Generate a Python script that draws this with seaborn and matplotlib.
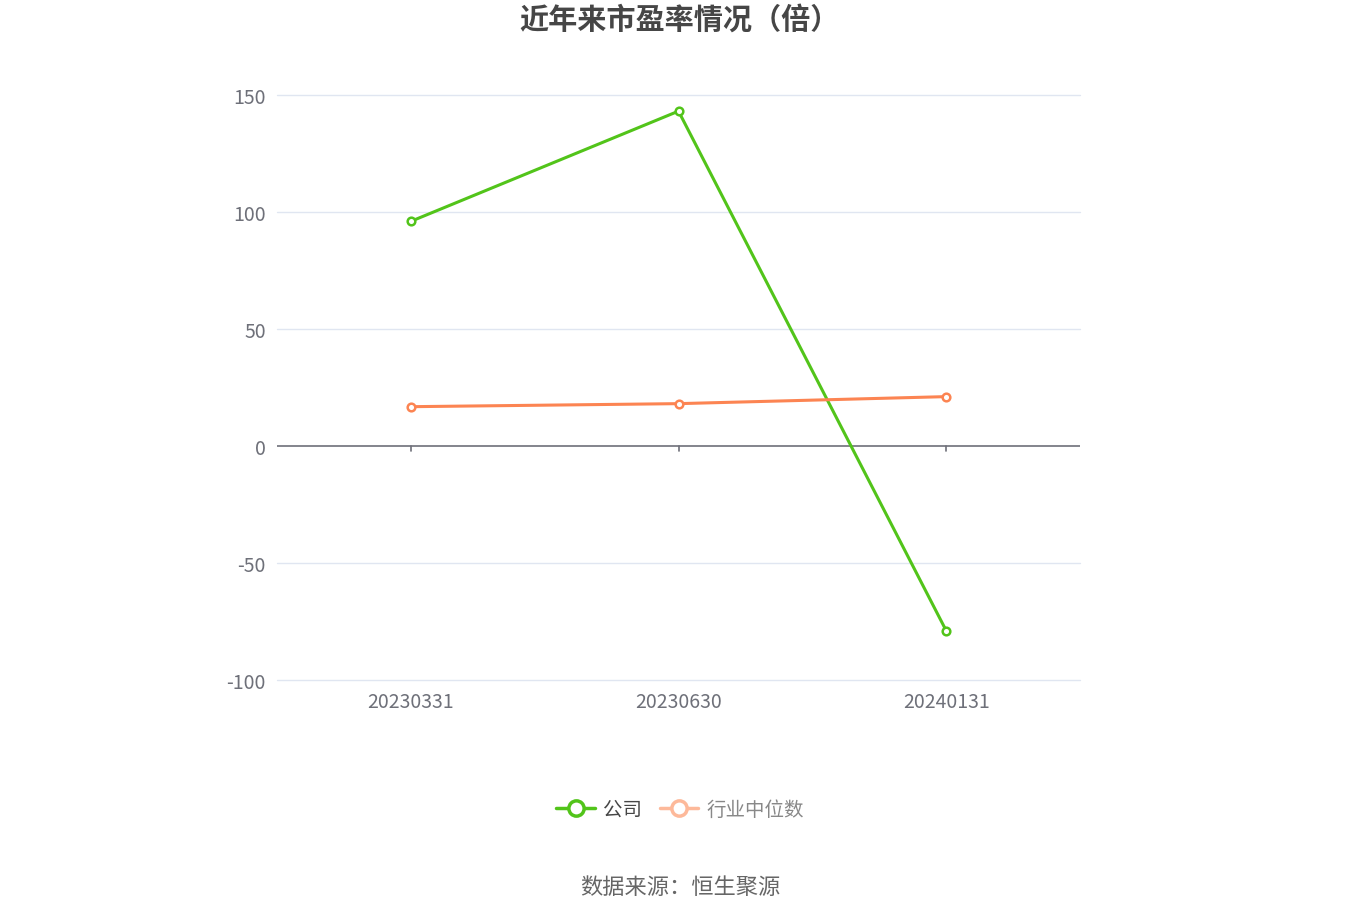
import matplotlib
matplotlib.use('Agg')
import matplotlib.pyplot as plt
import seaborn as sns
import pandas as pd
from matplotlib.lines import Line2D

# 데이터
dates = ['20230331', '20230630', '20240131']
company_pe = [96.0, 143.1, -78.9]
industry_pe = [16.8, 18.1, 21.1]
series_names = ['公司', '行业中位数']
y_ticks = [-100, -50, 0, 50, 100, 150]

sns.set_theme(style='white')
plt.rcParams['font.family'] = ['Noto Sans CJK SC', 'DejaVu Sans']
plt.rcParams['axes.unicode_minus'] = False

df = pd.DataFrame({
  'date': dates * 2,
  'x': list(range(len(dates))) * 2,
  'pe': company_pe + industry_pe,
  'series': [series_names[0]] * len(dates) + [series_names[1]] * len(dates),
})

green = '#52c41a'
orange = '#fc8452'
palette = {series_names[0]: green, series_names[1]: orange}

fig = plt.figure(figsize=(13.6, 9.2), dpi=100)
ax = fig.add_axes([277 / 1360, 1 - 681 / 920, 803 / 1360, 585 / 920])

sns.lineplot(data=df, x='x', y='pe', hue='series', palette=palette, ax=ax,
             linewidth=2.2, marker='o', markersize=5.5, markerfacecolor='white',
             markeredgewidth=1.8, legend=False)
for line, c in zip(ax.lines, [green, orange]):
  line.set_markeredgecolor(c)

ax.set_xlim(-0.5, 2.5)
ax.set_ylim(-100, 150)
ax.set_yticks(y_ticks)
ax.set_yticklabels([str(v) for v in y_ticks])
ax.set_xticks([])
ax.set_xlabel('')
ax.set_ylabel('')

for v in y_ticks:
  if v != 0:
    ax.axhline(v, color='#e0e6f1', linewidth=1, zorder=0, clip_on=False)
ax.axhline(0, color='#6e7079', linewidth=1.2, zorder=1)

# 0 라인 아래 눈금 + 카테고리 라벨
for i, d in enumerate(dates):
  ax.plot([i, i], [0, -2.2], color='#6e7079', linewidth=1.2, clip_on=False, zorder=1)
  ax.text(i, -104.5, d, ha='center', va='top', fontsize=14, color='#6e7079')

for s in ax.spines.values():
  s.set_visible(False)
ax.tick_params(axis='y', length=0, labelsize=14, labelcolor='#6e7079', pad=8)

fig.text(0.5, 1 - 20 / 920, '近年来市盈率情况（倍）', ha='center', va='center',
         fontsize=21, fontweight='bold', color='#464646')

handles = [
  Line2D([0], [0], color=green, linewidth=2.5, marker='o', markersize=11,
         markerfacecolor='white', markeredgecolor=green, markeredgewidth=2.5),
  Line2D([0], [0], color='#fdb99a', linewidth=2.5, marker='o', markersize=11,
         markerfacecolor='white', markeredgecolor='#fdb99a', markeredgewidth=2.5),
]
leg = fig.legend(handles, series_names, loc='center', bbox_to_anchor=(0.5, 1 - 810 / 920),
                 ncol=2, frameon=False, fontsize=14, handlelength=2.0,
                 handletextpad=0.4, columnspacing=0.9)
for t, c in zip(leg.get_texts(), ['#464646', '#888888']):
  t.set_color(c)

fig.text(0.5, 1 - 888 / 920, '数据来源：恒生聚源', ha='center', va='center',
         fontsize=16, color='#666666')

fig.savefig('out.png', dpi=100)
